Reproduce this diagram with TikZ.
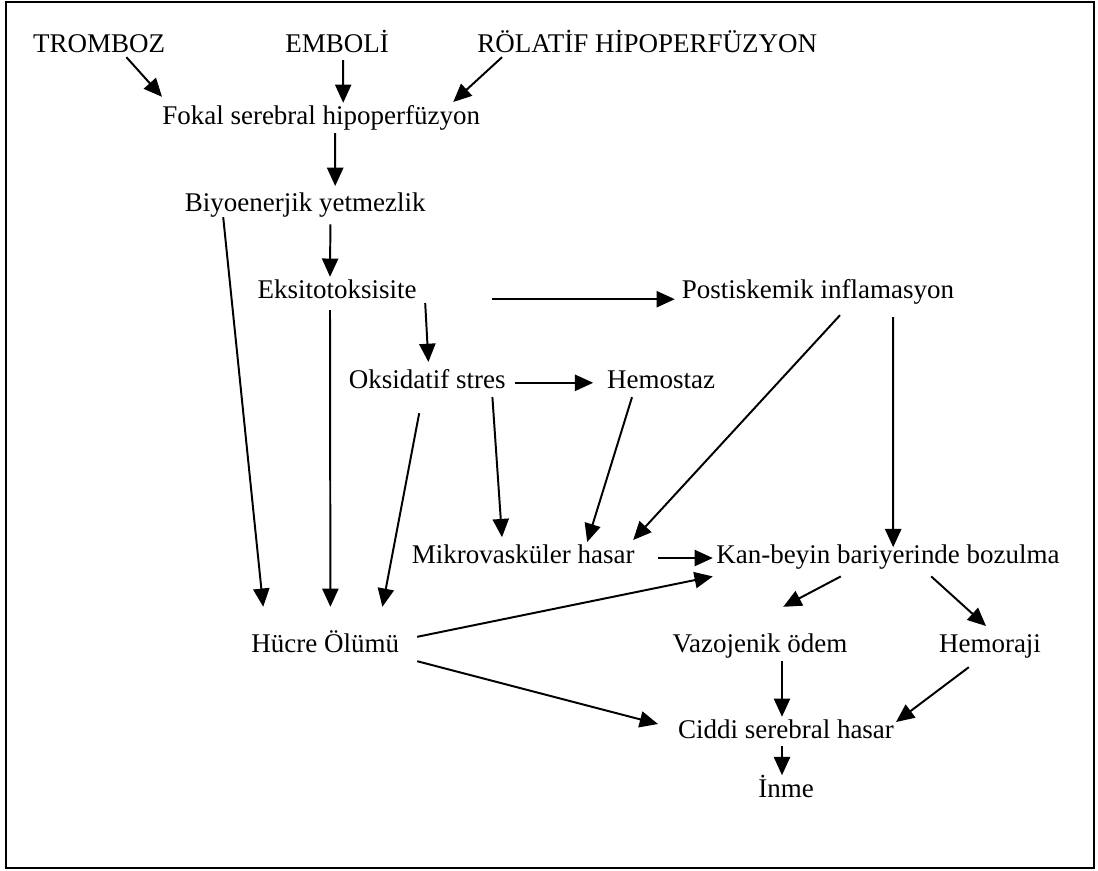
\documentclass[tikz,border=0pt]{standalone}
\usepackage{fontspec}
\setmainfont{Liberation Serif}
\usetikzlibrary{arrows.meta}

\tikzset{
  lbl/.style={anchor=base,inner sep=0pt,font=\fontsize{19.2}{23}\selectfont},
  arr/.style={-{Triangle[length=13pt,width=11.5pt]},line width=1.4pt}
}

\begin{document}
\begin{tikzpicture}
      \useasboundingbox (0,0) rectangle (27.45,-21.75);
      \draw[line width=1.3pt] (0.15,-0.06) rectangle (27.35,-21.70);
      % causes
      \node[lbl] (trom) at (2.48,-1.30) {TROMBOZ};
      \node[lbl] (emb) at (8.43,-1.30) {EMBOLİ};
      \node[lbl] (rol) at (16.18,-1.30) {RÖLATİF HİPOPERFÜZYON};
      \node[lbl] (fokal) at (8.03,-3.10) {Fokal serebral hipoperfüzyon};
      % cascade
      \node[lbl] (biyo) at (7.63,-5.28) {Biyoenerjik yetmezlik};
      \node[lbl] (eksi) at (8.43,-7.45) {Eksitotoksisite};
      \node[lbl] (post) at (20.45,-7.45) {Postiskemik inflamasyon};
      \node[lbl] (oksi) at (10.68,-9.70) {Oksidatif stres};
      \node[lbl] (hemo) at (16.53,-9.70) {Hemostaz};
      \node[lbl] (mikro) at (13.08,-14.08) {Mikrovasküler hasar};
      \node[lbl] (kan) at (22.20,-14.08) {Kan-beyin bariyerinde bozulma};
      \node[lbl] (hucre) at (8.13,-16.30) {Hücre Ölümü};
      \node[lbl] (vazo) at (19.00,-16.30) {Vazojenik ödem};
      \node[lbl] (hemor) at (24.75,-16.30) {Hemoraji};
      \node[lbl] (ciddi) at (19.65,-18.45) {Ciddi serebral hasar};
      \node[lbl] (inme) at (19.65,-19.93) {İnme};
      % arrows
      \draw[arr] ([shift={(0.68,-0.13)}]trom.base) -- ([shift={(-3.98,0.68)}]fokal.base);
      \draw[arr] ([shift={(0.15,-0.20)}]emb.base) -- ([shift={(0.55,0.53)}]fokal.base);
      \draw[arr] ([shift={(-3.63,-0.13)}]rol.base) -- ([shift={(3.30,0.55)}]fokal.base);
      \draw[arr] ([shift={(0.35,-0.23)}]fokal.base) -- ([shift={(0.75,0.63)}]biyo.base);
      \draw[arr] ([shift={(0.63,-0.33)}]biyo.base) -- ([shift={(-0.18,0.53)}]eksi.base);
      \draw[arr] ([shift={(-2.05,-0.15)}]biyo.base) -- ([shift={(-1.55,1.13)}]hucre.base);
      \draw[arr] ([shift={(-0.18,-0.30)}]eksi.base) -- ([shift={(0.13,1.13)}]hucre.base);
      \draw[arr] ([shift={(3.88,-0.03)}]eksi.base) -- ([shift={(-3.58,-0.03)}]post.base);
      \draw[arr] ([shift={(2.20,-0.13)}]eksi.base) -- ([shift={(0.03,0.65)}]oksi.base);
      \draw[arr] ([shift={(2.20,0.13)}]oksi.base) -- ([shift={(-1.70,0.13)}]hemo.base);
      \draw[arr] ([shift={(-0.20,-0.63)}]oksi.base) -- ([shift={(1.43,1.13)}]hucre.base);
      \draw[arr] ([shift={(1.63,-0.23)}]oksi.base) -- ([shift={(-0.53,0.65)}]mikro.base);
      \draw[arr] ([shift={(-0.73,-0.23)}]hemo.base) -- ([shift={(1.60,0.53)}]mikro.base);
      \draw[arr] ([shift={(0.55,-0.43)}]post.base) -- ([shift={(2.75,0.58)}]mikro.base);
      \draw[arr] ([shift={(1.88,-0.48)}]post.base) -- ([shift={(0.13,0.40)}]kan.base);
      \draw[arr] ([shift={(3.38,0.13)}]mikro.base) -- ([shift={(-4.38,0.13)}]kan.base);
      \draw[arr] ([shift={(2.30,0.38)}]hucre.base) -- ([shift={(-4.38,-0.33)}]kan.base);
      \draw[arr] ([shift={(2.30,-0.23)}]hucre.base) -- ([shift={(-3.20,0.35)}]ciddi.base);
      \draw[arr] ([shift={(-1.18,-0.33)}]kan.base) -- ([shift={(0.58,1.13)}]vazo.base);
      \draw[arr] ([shift={(1.08,-0.33)}]kan.base) -- ([shift={(-0.10,0.65)}]hemor.base);
      \draw[arr] ([shift={(0.55,-0.23)}]vazo.base) -- ([shift={(-0.10,0.53)}]ciddi.base);
      \draw[arr] ([shift={(-0.53,-0.38)}]hemor.base) -- ([shift={(2.75,0.40)}]ciddi.base);
      \draw[arr] ([shift={(-0.10,-0.20)}]ciddi.base) -- ([shift={(-0.10,0.55)}]inme.base);
    \end{tikzpicture}
\end{document}
